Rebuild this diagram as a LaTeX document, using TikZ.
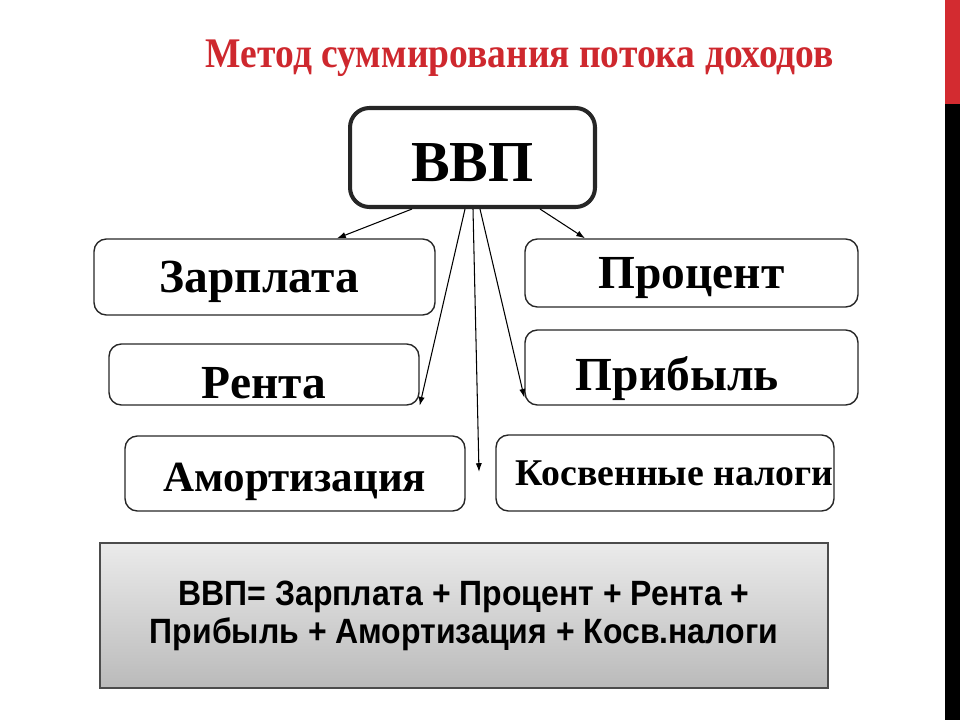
\documentclass[tikz,border=0pt]{standalone}
\usepackage{fontspec}
\setmainfont{Liberation Serif}
\newfontfamily\titlefont[FakeStretch=0.89]{Liberation Serif}
\newfontfamily\formulafont[FakeStretch=0.91]{Liberation Sans}
\usetikzlibrary{arrows.meta}

\definecolor{titlered}{RGB}{206,40,46}
\definecolor{barred}{RGB}{211,43,48}

\tikzset{
  box/.style={draw=black!85, line width=0.8pt, rounded corners=7pt, inner sep=0pt,
    font=\bfseries\fontsize{27}{30}\selectfont, text height=18pt, text depth=0pt},
  gdpbox/.style={box, line width=2.3pt, rounded corners=11pt,
    font=\bfseries\fontsize{33}{36}\selectfont, text height=27pt},
  sumbox/.style={draw=black!70, line width=0.8pt, top color=black!8, bottom color=black!27,
    align=center, font=\formulafont\bfseries\fontsize{20}{21.5}\selectfont},
  arr/.style={-{Latex[length=5pt,width=3.5pt]}, line width=0.6pt}
}

\begin{document}
\begin{tikzpicture}[x=0.02cm,y=-0.02cm]
\useasboundingbox (0,0) rectangle (960,720);

% side bar
\fill[barred] (945,0) rectangle (960,104);
\fill[black] (945,104) rectangle (960,720);

% title
\node[text=titlered, font=\titlefont\bfseries\fontsize{24}{28}\selectfont] (title) at (520,58) {Метод суммирования потока доходов};

% boxes
\node[gdpbox, minimum width=4.9cm, minimum height=1.98cm] (gdp) at (472.5,157.5) {ВВП};

\node[box, minimum width=6.82cm, minimum height=1.52cm] (zp) at (264.5,277) {Зарплата\kern6pt};
\node[box, minimum width=6.2cm, minimum height=1.22cm, text height=27.6pt] (renta) at (264,374.5) {Рента};
\node[box, minimum width=6.8cm, minimum height=1.5cm, font=\bfseries\fontsize{24.5}{28}\selectfont, text height=21pt] (amort) at (295,473.5) {Амортизация};

\node[box, minimum width=6.66cm, minimum height=1.36cm] (proc) at (691.5,273) {Процент};
\node[box, minimum width=6.66cm, minimum height=1.5cm, text height=26.5pt] (prib) at (691.5,367.5) {Прибыль\kern16pt};
\node[box, minimum width=6.76cm, minimum height=1.52cm, font=\bfseries\fontsize{21.5}{26}\selectfont, text height=14pt] (kosv) at (665,473) {\kern11pt Косвенные налоги};

\coordinate (tipmid) at (479,472);

% arrows
\draw[arr] ([xshift=-1.21cm]gdp.south) -- ([xshift=1.45cm]zp.north);
\draw[arr] ([xshift=-0.15cm]gdp.south) -- (renta.south east);
\draw[arr] ([xshift=0.01cm]gdp.south) -- (tipmid);
\draw[arr] ([xshift=0.15cm]gdp.south) -- ([yshift=0.16cm]prib.south west);
\draw[arr] ([xshift=1.35cm]gdp.south) -- ([xshift=-2.13cm]proc.north);

% formula
\node[sumbox, minimum width=14.56cm, minimum height=2.9cm] (sum) at (464,615.5)
  {ВВП= Зарплата + Процент + Рента +\\Прибыль + Амортизация + Косв.налоги};

\end{tikzpicture}
\end{document}
